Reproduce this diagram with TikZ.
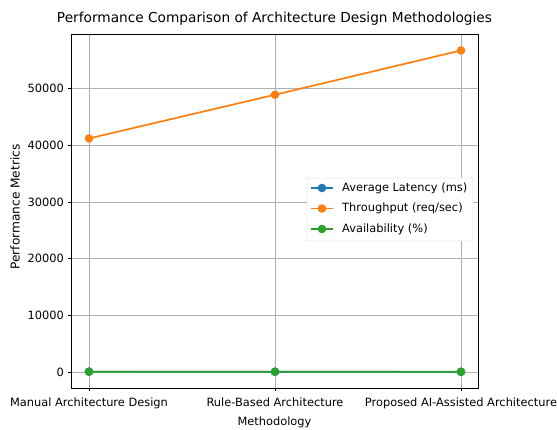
\documentclass[tikz,border=0pt]{standalone}
\usepackage{fontspec}
\setmainfont{DejaVu Sans}
\usetikzlibrary{positioning}
\definecolor{cblue}{HTML}{1F77B4}
\definecolor{corange}{HTML}{FF7F0E}
\definecolor{cgreen}{HTML}{2CA02C}
\definecolor{gridgray}{HTML}{B0B0B0}
\definecolor{legendgray}{HTML}{CCCCCC}
\tikzstyle{chart}=[x=1pt, y=1pt, font=\fontsize{11.4}{13}\selectfont, text=black]
\tikzstyle{gridline}=[draw=gridgray, line width=0.6pt]
\tikzstyle{ticklabel}=[inner sep=0pt]
\tikzstyle{series}=[line width=1.7pt]
\tikzstyle{dot}=[circle, inner sep=0pt, minimum size=8.5pt]
\tikzstyle{legendbox}=[draw=legendgray, fill=white, rounded corners=2pt, minimum width=166pt, minimum height=63pt]

\begin{document}
\begin{tikzpicture}[chart]
  \useasboundingbox (0,0) rectangle (557,430);
  % axes frame corners
  \coordinate (sw) at (71,42);
  \coordinate (ne) at (478,396);
  % grid and ticks
  \foreach \x/\name in {89/Manual Architecture Design, 275/Rule-Based Architecture, 461/Proposed AI-Assisted Architecture} {
    \draw[gridline] (\x,42) -- (\x,396);
    \draw[line width=0.7pt] (\x,42) -- (\x,38.5);
    \node[ticklabel, anchor=base] at (\x,23) {\name};
  }
  \begin{scope}[yshift=57.7pt, y=0.00568pt]
    \foreach \v in {0,10000,20000,30000,40000,50000} {
      \draw[gridline] (71,\v) -- (478,\v);
      \draw[line width=0.7pt] (71,\v) -- (67.5,\v);
      \node[ticklabel, anchor=east] at (64,\v) {\v};
    }
    % data points
    \node[dot] (lat1) at (89,120) {};
    \node[dot] (lat2) at (275,95) {};
    \node[dot] (lat3) at (461,70) {};
    \node[dot] (thr1) at (89,41200) {};
    \node[dot] (thr2) at (275,48900) {};
    \node[dot] (thr3) at (461,56700) {};
    \node[dot] (av1) at (89,99) {};
    \node[dot] (av2) at (275,99.5) {};
    \node[dot] (av3) at (461,99.9) {};
  \end{scope}
  % series
  \draw[series, cblue] (lat1.center) -- (lat2.center) -- (lat3.center);
  \foreach \n in {lat1,lat2,lat3} \fill[cblue] (\n) circle (4.3);
  \draw[series, corange] (thr1.center) -- (thr2.center) -- (thr3.center);
  \foreach \n in {thr1,thr2,thr3} \fill[corange] (\n) circle (4.3);
  \draw[series, cgreen] (av1.center) -- (av2.center) -- (av3.center);
  \foreach \n in {av1,av2,av3} \fill[cgreen] (\n) circle (4.3);
  % frame
  \draw[line width=0.9pt] (sw) rectangle (ne);
  % labels
  \node (title) at (274.5,411) {\fontsize{13.7}{16}\selectfont Performance Comparison of Architecture Design Methodologies};
  \node (xlabel) at (274.5,8) {Methodology};
  \node[rotate=90, font=\fontsize{12.2}{14}\selectfont] (ylabel) at (15,223) {Performance Metrics};
  % legend
  \node[legendbox] (legend) at (390,220.5) {};
  \foreach \c/\txt/\y [count=\i] in {cblue/{Average Latency (ms)}/242, corange/{Throughput (req/sec)}/221.5, cgreen/{Availability (\%)}/201} {
    \coordinate (ka\i) at (311,\y);
    \coordinate (kb\i) at (333,\y);
    \draw[series, \c] (ka\i) -- (kb\i);
    \fill[\c] (322,\y) circle (4.3);
    \node[anchor=west, inner sep=0pt] (entry\i) at (342,\y) {\txt};
  }
\end{tikzpicture}
\end{document}
